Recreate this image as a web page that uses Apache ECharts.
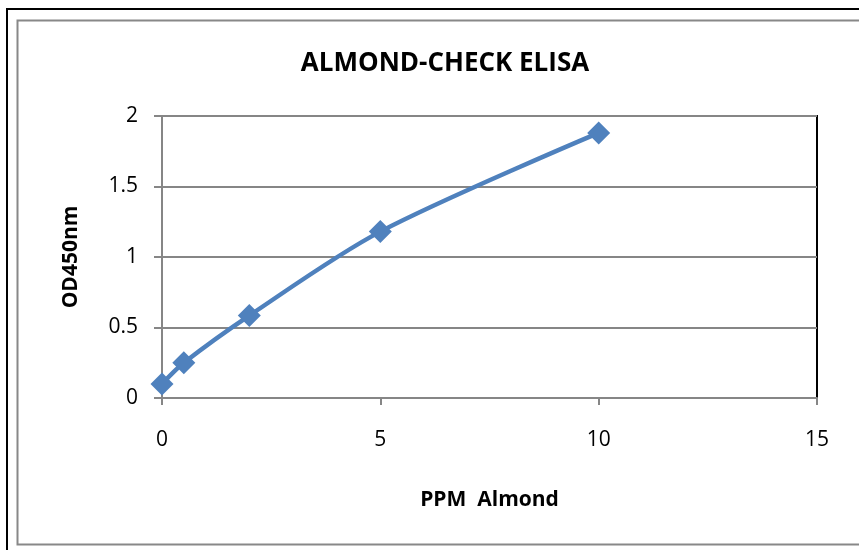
<!DOCTYPE html>
<html>
<head>
<meta charset="utf-8">
<script src="https://cdn.jsdelivr.net/npm/echarts@6/dist/echarts.min.js"></script>
<style>
  html, body { margin: 0; padding: 0; background: #fff; }
  #chart { width: 859px; height: 550px; }
</style>
</head>
<body>
<div id="chart"></div>
<script>
// ppm almond vs OD450
const ppm = [0, 0.5, 2, 5, 10]
const od450 = [0.1, 0.25, 0.585, 1.18, 1.88]
const xTicks = [0, 5, 10, 15]
const yTicks = [0, 0.5, 1, 1.5, 2]

const font = '"Open Sans", "Noto Sans", sans-serif'
const blue = '#4f81bd'

const chart = echarts.init(document.getElementById('chart'))

const options = {
  animation: false,
  title: {
    text: 'ALMOND-CHECK ELISA',
    left: 440,
    top: 46,
    textAlign: 'center',
    textStyle: { fontFamily: font, fontSize: 26, fontWeight: 'bold', color: '#000' }
  },
  // 外框
  graphic: [
    { type: 'rect', shape: { x: 7, y: 9, width: 900, height: 600 },
      style: { fill: 'none', stroke: '#000', lineWidth: 2 } },
    { type: 'rect', shape: { x: 17.5, y: 20.5, width: 900, height: 524 },
      style: { fill: 'none', stroke: '#888', lineWidth: 2 } }
  ],
  grid: {
    left: 162, top: 116, right: 42, bottom: 152,
    show: true, borderColor: '#000', borderWidth: 2, backgroundColor: '#fff'
  },
  xAxis: {
    type: 'value',
    min: xTicks[0], max: xTicks[xTicks.length - 1], interval: 5,
    name: 'PPM  Almond',
    nameLocation: 'middle',
    nameGap: 92,
    nameTextStyle: { fontFamily: font, fontSize: 21, fontWeight: 'bold', color: '#000' },
    axisLine: { show: true, lineStyle: { color: '#868686', width: 2 } },
    axisTick: { show: true, length: 7, lineStyle: { color: '#868686', width: 2 } },
    axisLabel: { fontFamily: font, fontSize: 21, color: '#000', margin: 32 },
    splitLine: { show: false }
  },
  yAxis: {
    type: 'value',
    min: yTicks[0], max: yTicks[yTicks.length - 1], interval: 0.5,
    name: 'OD450nm',
    nameLocation: 'middle',
    nameGap: 80,
    nameTextStyle: { fontFamily: font, fontSize: 21, fontWeight: 'bold', color: '#000' },
    axisLine: { show: true, lineStyle: { color: '#868686', width: 2 } },
    axisTick: { show: true, length: 8, lineStyle: { color: '#868686', width: 2 } },
    axisLabel: { fontFamily: font, fontSize: 21, color: '#000', margin: 24 },
    splitLine: { show: true, lineStyle: { color: '#868686', width: 2 } }
  },
  series: [{
    type: 'line',
    smooth: 0.3,
    data: ppm.map((x, i) => [x, od450[i]]),
    symbol: 'diamond',
    symbolSize: 23,
    itemStyle: { color: blue },
    lineStyle: { color: blue, width: 4.5 }
  }]
}

chart.setOption(options)
</script>
</body>
</html>
